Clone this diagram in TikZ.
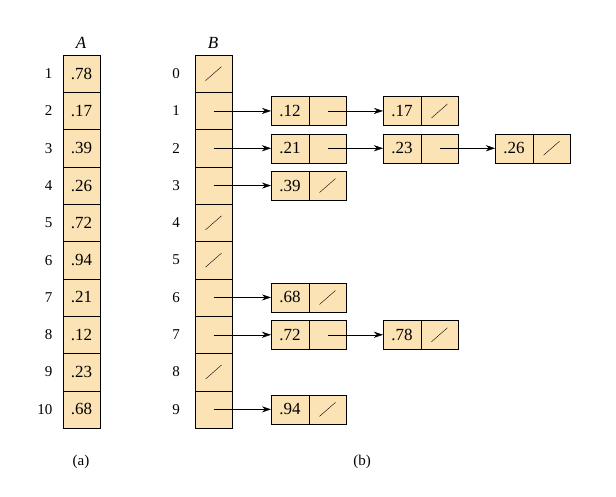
\documentclass[tikz,border=0pt]{standalone}
\usepackage{fontspec}
\setmainfont{Liberation Serif}
\begin{document}
\begin{tikzpicture}[x=1pt,y=-1pt,
  cell/.style={draw,fill=tan,minimum width=37pt,minimum height=37.3pt,inner sep=0,outer sep=0,font=\fontsize{17}{18}\selectfont},
  lv/.style={draw,fill=tan,minimum width=38pt,minimum height=29pt,inner sep=0,outer sep=0,font=\fontsize{17}{18}\selectfont},
  lp/.style={lv,minimum width=37pt},
  idx/.style={font=\fontsize{15}{18}\selectfont},
  nil/.style={shorten >=0pt},
  arr/.style={-{Stealth[length=9pt,width=6pt]}}]
\colorlet{tan}{orange!30!yellow!30!white}
\definecolor{tan}{HTML}{FBE3B6}
\useasboundingbox (0,0) rectangle (616,496);
\usetikzlibrary{arrows.meta}
\node[font=\itshape\fontsize{17}{18}\selectfont] (la) at (81,43) {A};
\node[font=\itshape\fontsize{17}{18}\selectfont] (lb) at (213,43) {B};
\foreach \v [count=\i] in {.78,.17,.39,.26,.72,.94,.21,.12,.23,.68}{
  \node[cell] (a\i) at (81.5,{55+37.3*(\i-0.5)}) {\v};
  \node[idx,anchor=east] (ai\i) at (56,{55+37.3*(\i-0.5)}) {\i};
}
\foreach \i in {0,...,9}{
  \node[cell] (b\i) at (213.5,{55+37.3*(\i+0.5)}) {};
  \node[idx] (bi\i) at (176,{55+37.3*(\i+0.5)}) {\i};
}
\foreach \i in {0,4,5,8}{ \draw (b\i.center) ++(-8,7) -- ++(16,-14); }
% list nodes
\newcommand{\lnode}[4]{% name, x, row, value
  \node[lv] (#1v) at (#2,{55+37.3*(#3+0.5)}) {#4};
  \node[lp,anchor=west] (#1p) at (#1v.east) {};
}
\lnode{n1}{290}{1}{.12}\lnode{n2}{402}{1}{.17}
\lnode{n3}{290}{2}{.21}\lnode{n4}{402}{2}{.23}\lnode{n5}{514}{2}{.26}
\lnode{n6}{290}{3}{.39}
\lnode{n7}{290}{6}{.68}
\lnode{n8}{290}{7}{.72}\lnode{n9}{402}{7}{.78}
\lnode{n10}{290}{9}{.94}
\foreach \n in {n2,n5,n6,n7,n9,n10}{ \draw (\n p.center) ++(-8,7) -- ++(16,-14); }
\foreach \s/\t in {b1/n1v,b2/n3v,b3/n6v,b6/n7v,b7/n8v,b9/n10v,n1p/n2v,n3p/n4v,n4p/n5v,n8p/n9v}{
  \draw[arr] (\s.center) -- (\t.west);
}
\node[idx] (capa) at (81,462) {(a)};
\node[idx] (capb) at (362,462) {(b)};
\end{tikzpicture}
\end{document}
